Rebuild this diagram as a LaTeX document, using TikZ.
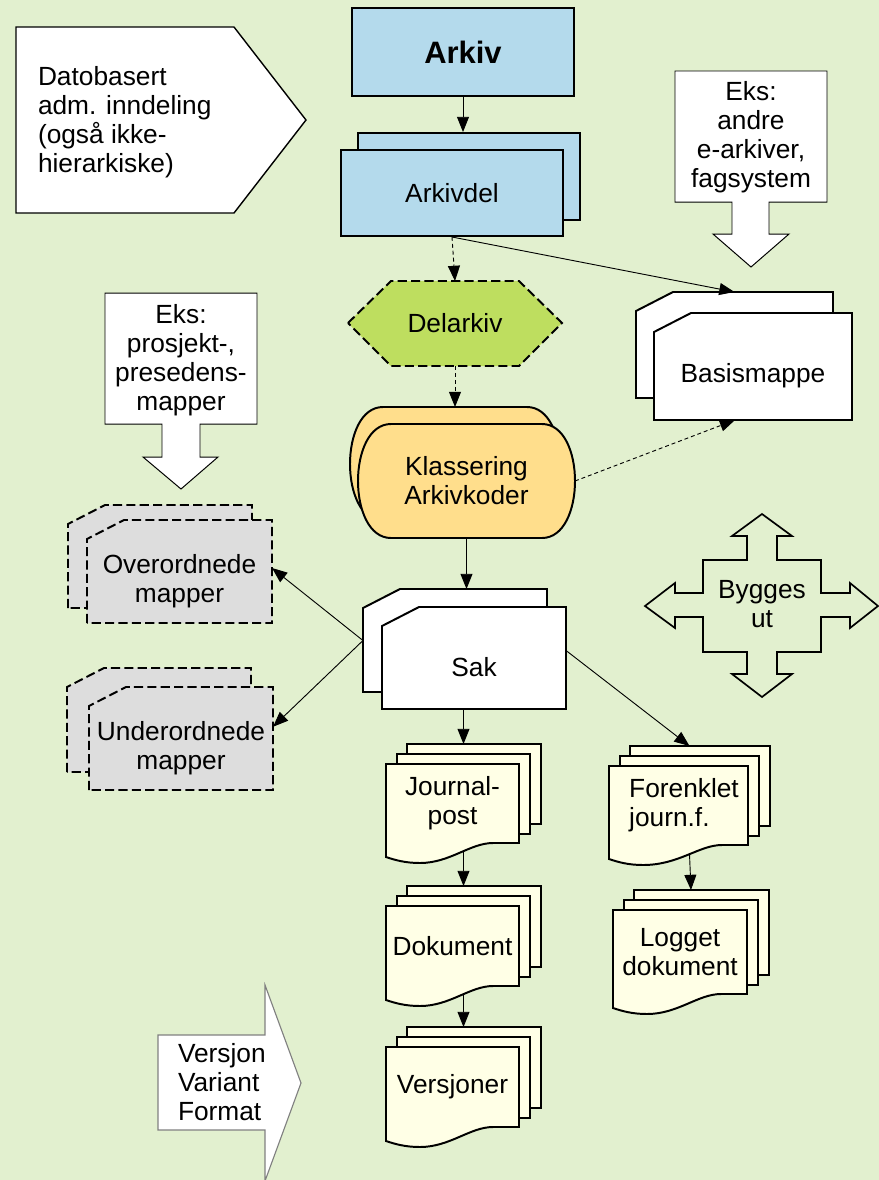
\documentclass[tikz,border=0pt]{standalone}
\usepackage{fontspec}
\setmainfont{Liberation Sans}
\usetikzlibrary{arrows.meta, calc}

% folder with cut corner: x0, y0, x1, y1, style
\newcommand{\mappeform}[5]{%
  \filldraw[#5] (#1,#4) -- (#1,#2+19) -- (#1+37,#2) -- (#3,#2) -- (#3,#4) -- cycle;}

% rounded "terminal" shape: x0, y0, x1, y1
\newcommand{\klform}[4]{%
  \filldraw[kant, fill=klassgul] (#1+33,#2) -- (#3-33,#2)
    .. controls (#3+11,#2) and (#3+11,#4) .. (#3-33,#4)
    -- (#1+33,#4) .. controls (#1-11,#4) and (#1-11,#2) .. (#1+33,#2) -- cycle;}

% stack of three documents: name, x0, y0, width, height
\newcommand{\dokstabel}[5]{%
  \filldraw[kant, fill=dokgul] (#2+21,#3-20) rectangle (#2+#4+22,#3+#5-19);
  \filldraw[kant, fill=dokgul] (#2+11,#3-10) rectangle (#2+#4+11,#3+#5-9);
  \filldraw[kant, fill=dokgul] (#2,#3) -- (#2+#4,#3) -- (#2+#4,#3+#5) -- (#2+#4-26,#3+#5)
    .. controls (#2+#4-49,#3+#5) and (#2+#4-69,#3+#5+20) .. (#2+34,#3+#5+20)
    .. controls (#2+19,#3+#5+20) and (#2+9,#3+#5+17) .. (#2,#3+#5+14) -- cycle;
  \coordinate (#1-topp) at (#2+11+#4/2,#3-20);
  \coordinate (#1-bunn) at (#2+11+#4/2,#3+#5+9);}

\begin{document}
\begin{tikzpicture}[x=0.025cm, y=-0.025cm, >={Triangle[length=0.38cm, width=0.3cm]},
    font=\fontsize{18.7}{20.6}\selectfont,
    kant/.style={draw=black, line width=1.4pt},
    tynn/.style={draw=black, line width=0.7pt},
    stiplet/.style={kant, dash pattern=on 6.5pt off 3pt},
    tekst/.style={inner sep=0pt, outer sep=0pt, align=center},
    pil/.style={->, line width=0.65pt},
    prikkpil/.style={pil, dash pattern=on 2.8pt off 2.1pt}]

    % Define colors
    \definecolor{bakgrunn}{RGB}{226,240,207}
    \definecolor{arkivblaa}{RGB}{180,218,236}
    \definecolor{delgronn}{RGB}{190,222,95}
    \definecolor{klassgul}{RGB}{255,222,140}
    \definecolor{dokgul}{RGB}{255,255,230}
    \definecolor{mappegraa}{RGB}{221,221,221}

    % Page
    \useasboundingbox (0,0) rectangle (879,1180);
    \fill[bakgrunn] (0,0) rectangle (879,1180);

    % Datobasert inndeling
    \filldraw[draw=black, line width=1pt, fill=white] (16,27) -- (234,27) -- (306,120) -- (234,213) -- (16,213) -- cycle;
    \node[tekst, align=left, anchor=west] (datobasert) at (38,122) {Datobasert\\adm. inndeling\\(også ikke-\\hierarkiske)};

    % Arkiv and Arkivdel
    \node[kant, fill=arkivblaa, minimum width=5.55cm, minimum height=2.2cm,
          font=\fontsize{22}{26}\selectfont\bfseries] (arkiv) at (463,52) {Arkiv};
    \node[kant, fill=arkivblaa, minimum width=5.55cm, minimum height=2.175cm] (arkivdel-b) at (469,176.5) {};
    \node[kant, fill=arkivblaa, minimum width=5.55cm, minimum height=2.15cm] (arkivdel) at (452,193) {Arkivdel};

    % Delarkiv
    \filldraw[stiplet, fill=delgronn] (348,323) -- (391,281) -- (519,281) -- (562,323) -- (519,366) -- (391,366) -- cycle;
    \node[tekst, minimum width=5.35cm, minimum height=2.125cm] (delarkiv) at (455,323.5) {Delarkiv};

    % Klassering
    \klform{350}{407}{560}{521}
    \klform{358}{424}{575}{538}
    \node[tekst, minimum width=5.25cm, minimum height=2.85cm] (klassering-b) at (455,464) {};
    \node[tekst, minimum width=5.425cm, minimum height=2.85cm] (klassering) at (466.5,481) {Klassering\\Arkivkoder};

    % Basismappe
    \mappeform{636}{292}{833}{398}{kant, fill=white}
    \mappeform{654}{313}{852}{420}{kant, fill=white}
    \node[tekst, minimum width=4.925cm, minimum height=2.65cm] (basismappe-b) at (734.5,345) {};
    \node[tekst, minimum width=4.95cm, minimum height=2.2cm] (basismappe) at (753,376) {Basismappe};

    % Eks: andre e-arkiver
    \filldraw[tynn, fill=white] (675,71) -- (827,71) -- (827,202) -- (769,202) -- (769,234) -- (789,234)
        -- (751,267) -- (713,234) -- (732,234) -- (732,202) -- (675,202) -- cycle;
    \node[tekst] (eksandre) at (751,137.5) {Eks:\\andre\\e-arkiver,\\fagsystem};

    % Eks: prosjektmapper
    \filldraw[tynn, fill=white] (105,293) -- (257,293) -- (257,424) -- (200,424) -- (200,457) -- (218,457)
        -- (181,489) -- (143,457) -- (162,457) -- (162,424) -- (105,424) -- cycle;
    \node[tekst] (eksprosjekt) at (181,360) {Eks:\\prosjekt-,\\presedens-\\mapper};

    % Overordnede and underordnede mapper
    \mappeform{68}{505}{252}{608}{stiplet, fill=mappegraa}
    \mappeform{87}{520}{272}{623}{stiplet, fill=mappegraa}
    \node[tekst, minimum width=4.625cm, minimum height=2.1cm] (overordnede) at (179.5,581) {Overordnede\\mapper};
    \mappeform{67}{668}{251}{772}{stiplet, fill=mappegraa}
    \mappeform{89}{687}{273}{790}{stiplet, fill=mappegraa}
    \node[tekst, minimum width=4.6cm, minimum height=2.1cm] (underordnede) at (181,748) {Underordnede\\mapper};

    % Sak
    \mappeform{363}{589}{547}{692}{kant, fill=white}
    \mappeform{382}{607}{566}{709}{kant, fill=white}
    \node[tekst, minimum width=4.6cm, minimum height=2.575cm] (sak-b) at (455,640.5) {};
    \node[tekst, minimum width=4.6cm, minimum height=2.075cm] (sak) at (474,667.5) {Sak};

    % Bygges ut
    \draw[draw=black, line width=1.2pt] (762,514) -- (792,536) -- (777,536) -- (777,560) -- (821,560) -- (821,593)
        -- (850,593) -- (850,583) -- (878,606) -- (850,628) -- (850,617) -- (821,617) -- (821,652)
        -- (777,652) -- (777,674) -- (792,674) -- (762,697) -- (732,674) -- (747,674) -- (747,652)
        -- (703,652) -- (703,617) -- (675,617) -- (675,628) -- (645,606) -- (675,583) -- (675,593)
        -- (703,593) -- (703,560) -- (747,560) -- (747,536) -- (732,536) -- cycle;
    \node[tekst] (bygges) at (762,604) {Bygges\\ut};

    % Document stacks
    \dokstabel{journalpost}{386}{764}{133}{79}
    \node[tekst] (journalpost) at (452.5,803.5) {Journal-\\post};
    \dokstabel{dokument}{386}{906}{133}{80}
    \node[tekst] (dokument) at (452.5,946) {Dokument};
    \dokstabel{versjoner}{386}{1047}{133}{80}
    \node[tekst] (versjoner) at (452.5,1087) {Versjoner};
    \dokstabel{forenklet}{609}{766}{139}{79}
    \node[tekst, align=left] (forenklet) at (684,805) {Forenklet\\journ.f.};
    \dokstabel{logget}{613}{910}{134}{84}
    \node[tekst] (logget) at (680,952) {Logget\\dokument};

    % Versjon / Variant / Format
    \filldraw[draw=gray, line width=0.8pt, fill=white] (158,1035) -- (265,1035) -- (265,985) -- (301,1083)
        -- (265,1181) -- (265,1130) -- (158,1130) -- cycle;
    \node[tekst, align=left, anchor=west] (versjon) at (178,1082) {Versjon\\Variant\\Format};

    % Connectors
    \draw[pil] (arkiv.south) -- (arkiv.south |- arkivdel-b.north);
    \draw[prikkpil] (arkivdel.south) -- (delarkiv.north);
    \draw[pil] (arkivdel.south) -- (basismappe-b.north);
    \draw[prikkpil] (delarkiv.south) -- (klassering-b.north);
    \draw[prikkpil] (klassering.east) -- ($(basismappe.south)+(-18,0)$);
    \draw[pil] (klassering.south) -- (klassering.south |- sak-b.north);
    \draw[pil] (sak-b.west) -- (overordnede.8);
    \draw[pil] (sak-b.west) -- (underordnede.13);
    \draw[pil] (journalpost-topp |- sak.south) -- (journalpost-topp);
    \draw[pil] ($(sak.east)+(0,-17)$) -- (forenklet-topp);
    \draw[pil] (journalpost-bunn) -- (dokument-topp);
    \draw[pil] (dokument-bunn) -- (versjoner-topp);
    \draw[pil] (forenklet-bunn) -- (logget-topp);

\end{tikzpicture}
\end{document}
